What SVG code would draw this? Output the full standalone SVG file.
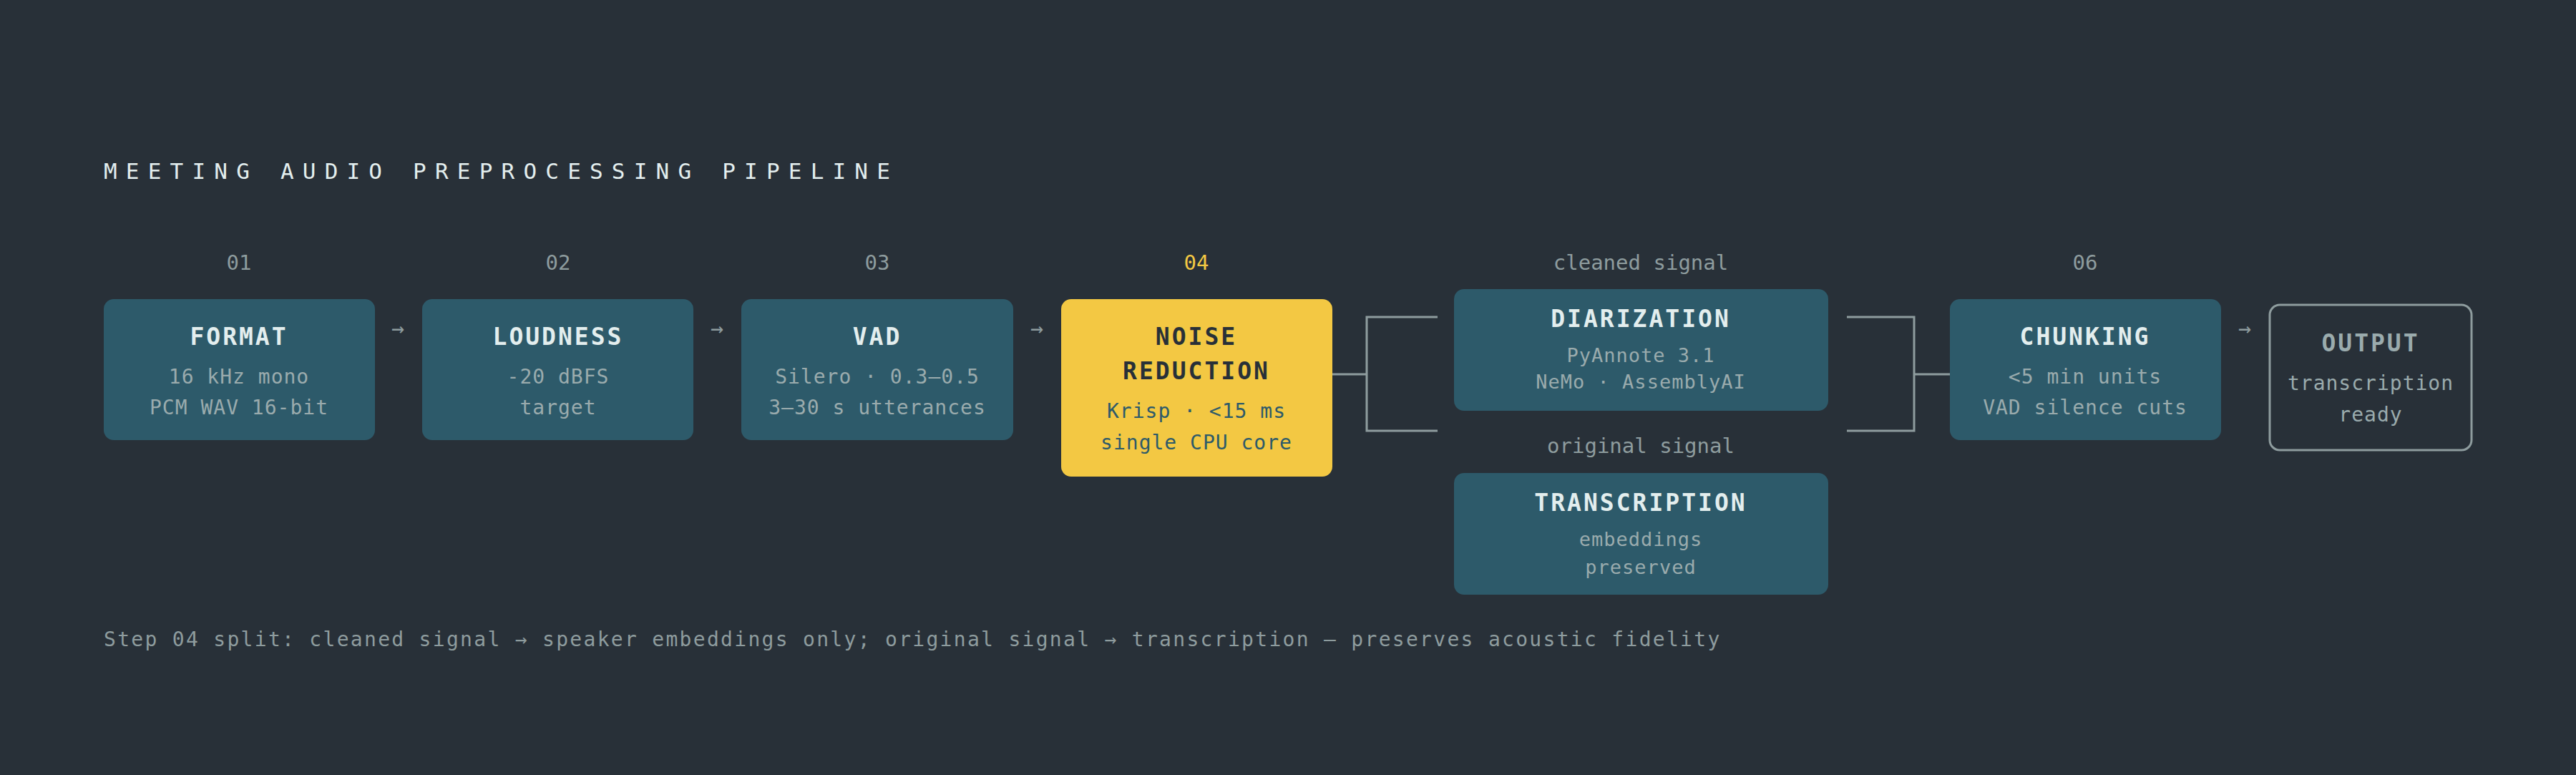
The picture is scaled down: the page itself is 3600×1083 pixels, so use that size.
<svg xmlns="http://www.w3.org/2000/svg" width="3600" height="1083" viewBox="0 0 3600 1083">
<style>
text{font-family:"DejaVu Sans Mono","Liberation Mono",monospace;text-anchor:middle}
.bx{fill:#2d5a6a}
.t{font-size:33px;font-weight:bold;fill:#e3eeee;letter-spacing:3px}
.s{font-size:28px;fill:#9aabad;letter-spacing:1px}
.n{font-size:29px;fill:#8e9c9e}
.a{font-size:30px;fill:#8e9c9e}
.c{fill:none;stroke:#8e9c9e;stroke-width:3}
</style>
<rect width="3600" height="1083" fill="#283038"/>
<text x="145" y="250" style="text-anchor:start;font-size:31px;fill:#e3eeee;letter-spacing:12.2px">MEETING AUDIO PREPROCESSING PIPELINE</text>
<g id="labels">
<text class="n" x="334" y="377">01</text>
<text class="n" x="780" y="377">02</text>
<text class="n" x="1226" y="377">03</text>
<text class="n" x="1672" y="377" fill="#f3c843" style="fill:#f3c843">04</text>
<text class="n" x="2293" y="377">cleaned signal</text>
<text class="n" x="2293" y="633">original signal</text>
<text class="n" x="2914" y="377">06</text>
</g>
<g id="connectors">
<text class="a" x="556" y="469">→</text>
<text class="a" x="1002" y="469">→</text>
<text class="a" x="1449" y="469">→</text>
<text class="a" x="3137" y="469">→</text>
<path class="c" d="M1862 523H1910M2009 443H1910V602H2009"/>
<path class="c" d="M2581 443H2675V602H2581M2675 523H2725"/>
</g>
<g id="format"><rect class="bx" x="145" y="418" width="379" height="197" rx="14"/>
<text class="t" x="334" y="482">FORMAT</text><text class="s" x="334" y="536">16 kHz mono</text><text class="s" x="334" y="579">PCM WAV 16-bit</text></g>
<g id="loudness"><rect class="bx" x="590" y="418" width="379" height="197" rx="14"/>
<text class="t" x="780" y="482">LOUDNESS</text><text class="s" x="780" y="536">-20 dBFS</text><text class="s" x="780" y="579">target</text></g>
<g id="vad"><rect class="bx" x="1036" y="418" width="380" height="197" rx="14"/>
<text class="t" x="1226" y="482">VAD</text><text class="s" x="1226" y="536">Silero · 0.3–0.5</text><text class="s" x="1226" y="579">3–30 s utterances</text></g>
<g id="noise"><rect x="1483" y="418" width="379" height="248" rx="14" fill="#f3c843"/>
<text class="t" x="1672" y="482" style="fill:#283038">NOISE</text><text class="t" x="1672" y="530" style="fill:#283038">REDUCTION</text>
<text class="s" x="1672" y="584" style="fill:#2d5a6a">Krisp · &lt;15 ms</text><text class="s" x="1672" y="628" style="fill:#2d5a6a">single CPU core</text></g>
<g id="diarization"><rect class="bx" x="2032" y="404" width="523" height="170" rx="14"/>
<text class="t" x="2293" y="457">DIARIZATION</text><text class="s" x="2293" y="506" style="font-size:27px">PyAnnote 3.1</text><text class="s" x="2293" y="543" style="font-size:27px">NeMo · AssemblyAI</text></g>
<g id="transcription"><rect class="bx" x="2032" y="661" width="523" height="170" rx="14"/>
<text class="t" x="2293" y="714">TRANSCRIPTION</text><text class="s" x="2293" y="763" style="font-size:27px">embeddings</text><text class="s" x="2293" y="802" style="font-size:27px">preserved</text></g>
<g id="chunking"><rect class="bx" x="2725" y="418" width="379" height="197" rx="14"/>
<text class="t" x="2914" y="482">CHUNKING</text><text class="s" x="2914" y="536">&lt;5 min units</text><text class="s" x="2914" y="579">VAD silence cuts</text></g>
<g id="output"><rect x="3172" y="426" width="282" height="203" rx="14" fill="none" stroke="#8e9c9e" stroke-width="3"/>
<text class="t" x="3313" y="491" style="fill:#9aabad">OUTPUT</text><text class="s" x="3313" y="545">transcription</text><text class="s" x="3313" y="589">ready</text></g>
<text x="145" y="903" style="text-anchor:start;font-size:28px;fill:#8e9c9e;letter-spacing:2.3px">Step 04 split: cleaned signal → speaker embeddings only; original signal → transcription — preserves acoustic fidelity</text>
</svg>
